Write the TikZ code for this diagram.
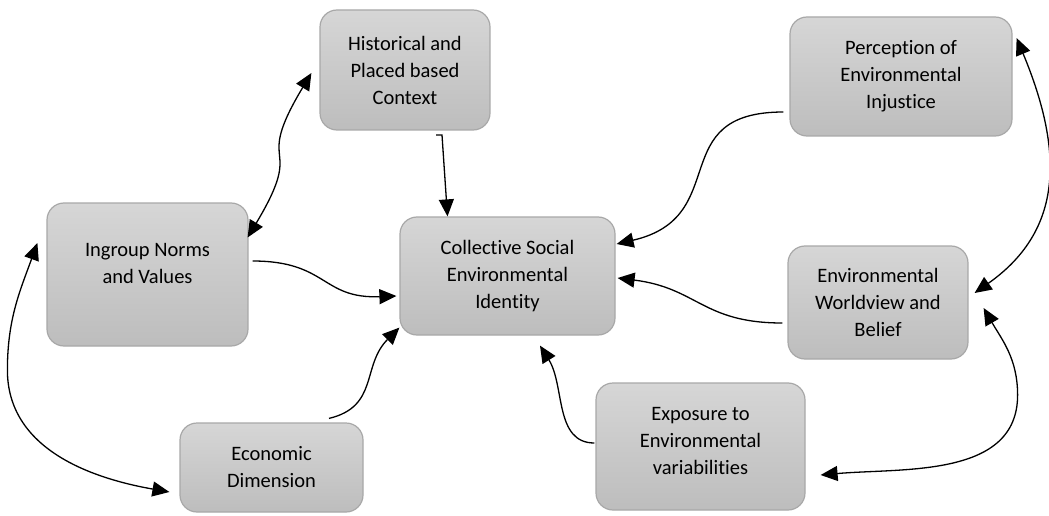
\documentclass[tikz,border=0pt]{standalone}
\usepackage{fontspec}
\setmainfont{Carlito}[Ligatures=NoCommon]
\usetikzlibrary{arrows.meta,calc}
\definecolor{boxtop}{RGB}{214,214,214}
\definecolor{boxbot}{RGB}{189,189,189}
\definecolor{boxline}{RGB}{168,168,168}
\begin{document}
\begin{tikzpicture}[x=1pt,y=1pt,
 box/.style={rectangle, rounded corners=17pt, draw=boxline, line width=1.2pt, top color=boxtop, bottom color=boxbot, align=center, inner sep=0pt, font=\fontsize{20.5}{27}\selectfont},
 lbl/.style={align=center, inner sep=0pt, font=\fontsize{20.5}{27}\selectfont},
 conn/.style={line width=1.3pt, -{Triangle[length=17pt,width=15pt]}},
 biconn/.style={line width=1.3pt, {Triangle[length=17pt,width=15pt]}-{Triangle[length=17pt,width=15pt]}}]
\useasboundingbox (0,0) rectangle (1049,515);

\node[box, minimum width=170pt, minimum height=120pt] (hist) at (405,445) {Historical and\\Placed based\\Context};
\node[box, minimum width=215pt, minimum height=118pt] (coll) at (507.5,239) {Collective Social\\Environmental\\Identity};
\node[box, minimum width=201pt, minimum height=143pt] (ingroup) at (147.5,240.5) {};
\node[lbl] (ingrouptxt) at ($(ingroup.center)+(0,11.5)$) {Ingroup Norms\\and Values};
\node[box, minimum width=183pt, minimum height=89pt] (econ) at (271.5,47.5) {Economic\\Dimension};
\node[box, minimum width=222pt, minimum height=119pt] (perc) at (901,438.5) {Perception of\\Environmental\\Injustice};
\node[box, minimum width=180pt, minimum height=113pt] (world) at (878,212.5) {Environmental\\Worldview and\\Belief};
\node[box, minimum width=209pt, minimum height=127pt] (expo) at (700.5,68.5) {};
\node[lbl] (expotxt) at ($(expo.center)+(0,5.5)$) {Exposure to\\Environmental\\variabilities};

% Historical -> Collective
\draw[conn] ($(hist.south)+(31,-4.5)$) -- ($(hist.south)+(37,-4.5)$) -- ($(coll.north)+(-60,0)$);
% Ingroup <-> Historical
\draw[biconn] ($(ingroup.east)+(-1,37)$) .. controls +(60,100) and +(-60,-100) .. ($(hist.west)+(-8,-3)$);
% Ingroup -> Collective
\draw[conn] ($(ingroup.east)+(4,13.5)$) .. controls +(75,0) and +(-75,-3) .. ($(coll.west)+(-3,-20)$);
% Economic -> Collective
\draw[conn] ($(econ.north)+(57.5,4)$) .. controls +(50,12) and +(-38,-38) .. ($(coll.south west)+(0,8)$);
% Ingroup <-> Economic
\draw[biconn] ($(ingroup.west)+(-9,31.5)$) to[out=-110,in=90] ($(ingroup.west)+(-39,-95.5)$) to[out=-90,in=170] ($(econ.west)+(-10,-24.5)$);
% Perception -> Collective
\draw[conn] ($(perc.west)+(-6,-35.5)$) .. controls +(-120,0) and +(117,27) .. ($(coll.east)+(1,32)$);
% Worldview -> Collective
\draw[conn] ($(world.west)+(-5,-20.5)$) .. controls +(-80,0) and +(80,-10) .. ($(coll.east)+(2,-2)$);
% Exposure -> Collective
\draw[conn] ($(expo.west)+(-1,3.5)$) .. controls +(-40,0) and +(25,-40) .. ($(coll.south)+(32.5,-10)$);
% Perception <-> Worldview
\draw[biconn] ($(perc.east)+(4,38.5)$) .. controls +(50,-120) and +(85,60) .. ($(world.east)+(6,9.5)$);
% Worldview <-> Exposure
\draw[biconn] ($(world.east)+(15,-5.5)$) to[out=-60,in=90] ($(world.east)+(49,-92.5)$) to[out=-90,in=5] ($(expo.east)+(15,-28.5)$);
\end{tikzpicture}
\end{document}
